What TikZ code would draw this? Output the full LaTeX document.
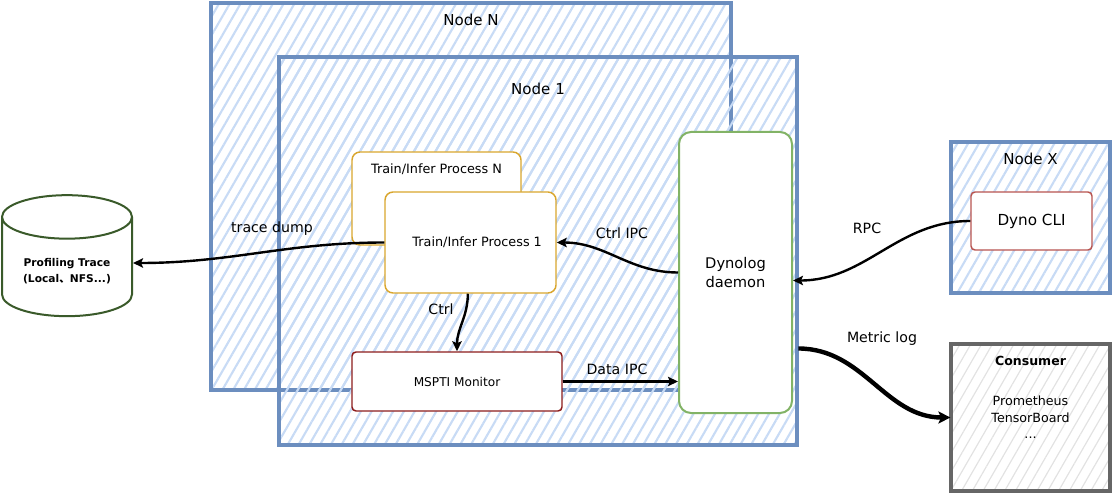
\documentclass[tikz,border=0pt]{standalone}
\usepackage{fontspec}
\setmainfont{DejaVu Sans}
\newfontfamily\cjkfont{Noto Sans CJK SC}
\usepackage{xcolor}
\usetikzlibrary{positioning,calc,shapes.geometric,patterns.meta,arrows.meta}
\definecolor{dynoBlueLine}{HTML}{6C8EBF}
\definecolor{dynoBlueHatch}{HTML}{C8DBF5}
\definecolor{dynoGrayLine}{HTML}{666666}
\definecolor{dynoGrayHatch}{HTML}{E2E2E2}
\definecolor{dynoProcLine}{HTML}{D9A62E}
\definecolor{dynoMonLine}{HTML}{8C1C1C}
\definecolor{dynoCliLine}{HTML}{B85450}
\definecolor{dynoDaemonLine}{HTML}{82B366}
\definecolor{dynoTraceLine}{HTML}{3A5A2A}

\tikzset{
  hostbox/.style={draw=dynoBlueLine, line width=2.3pt,
    pattern={Lines[angle=60,distance=7pt,line width=1.6pt]},
    pattern color=dynoBlueHatch},
  sinkbox/.style={draw=dynoGrayLine, line width=2.3pt,
    pattern={Lines[angle=60,distance=7pt,line width=0.9pt]},
    pattern color=dynoGrayHatch, align=center,
    font=\fontsize{9.5}{12.5}\selectfont},
  procbox/.style={draw=dynoProcLine, fill=white, line width=1.1pt,
    rounded corners=6pt, font=\fontsize{9.6}{11}\selectfont},
  hosttitle/.style={font=\fontsize{11.3}{13}\selectfont},
  flow/.style={draw=black, line width=1.8pt,
    -{Stealth[length=7.5pt,width=7pt,inset=1.5pt]}},
  flowlabel/.style={font=\fontsize{10.6}{12}\selectfont}
}

\begin{document}
\begin{tikzpicture}[x=0.75pt, y=-0.75pt]
\useasboundingbox (0,0) rectangle (1113,495);

% --- HOSTS (hatched, back to front) ---
\node[hostbox, minimum width=390pt, minimum height=290.25pt]
  (nodeN) at (471,196.5) {};
\node[hosttitle, below=5.5pt of nodeN.north] (nodeNtitle) {Node N};

\node[hostbox, minimum width=388.5pt, minimum height=291pt]
  (node1) at (538,251) {};
\node[hosttitle, below=17pt of node1.north] (node1title) {Node 1};

\node[hostbox, minimum width=119.25pt, minimum height=113.25pt]
  (nodeX) at (1030.5,217.5) {};
\node[hosttitle, below=6pt of nodeX.north] (nodeXtitle) {Node X};

% --- CONSUMER ---
\node[sinkbox, minimum width=119.25pt, minimum height=110.25pt]
  (consumer) at (1030.5,417.5) {Prometheus\\TensorBoard\\...};
\node[hosttitle, font=\fontsize{9.4}{12}\selectfont\bfseries,
      below=6pt of consumer.north] (consumertitle) {Consumer};

% --- TRACE STORE ---
\node[cylinder, shape border rotate=90, aspect=0.45, draw=dynoTraceLine,
      line width=1.5pt, fill=white, minimum width=97.5pt, minimum height=90.75pt,
      align=center, font=\fontsize{8}{12}\selectfont\bfseries]
  (trace) at (67,271) {Profiling Trace\\(Local{\cjkfont 、}NFS...)};

% --- PROCESSES ---
\node[procbox, minimum width=126.75pt, minimum height=69.75pt]
  (procN) at (436.5,198.5) {};
\node[font=\fontsize{9.6}{11}\selectfont, below=5.5pt of procN.north]
  (procNtitle) {Train/Infer Process N};
\node[procbox, minimum width=128.25pt, minimum height=75.75pt]
  (proc1) at (470.5,242.5) {\hspace*{10pt}Train/Infer Process 1};

\node[procbox, draw=dynoMonLine, rounded corners=3pt,
      font=\fontsize{9.1}{11}\selectfont,
      minimum width=157.5pt, minimum height=44.25pt]
  (mspti) at (457,381.5) {MSPTI Monitor};

% --- DAEMON + CLI ---
\node[draw=dynoDaemonLine, fill=white, line width=1.5pt, rounded corners=9pt,
      minimum width=84.75pt, minimum height=210.75pt, align=center,
      font=\fontsize{11}{14}\selectfont]
  (dynolog) at (735.5,272.5) {Dynolog\\daemon};

\node[draw=dynoCliLine, fill=white, line width=1.1pt, rounded corners=3pt,
      minimum width=90.75pt, minimum height=43.5pt,
      font=\fontsize{11.4}{13}\selectfont]
  (dynocli) at (1031.5,221) {Dyno CLI};

% --- CONNECTORS ---
\draw[flow] (proc1.west) to[out=180, in=0] ([yshift=6pt]trace.east);
\node[flowlabel] (tracedumpLabel) at (272,229) {trace dump};

\draw[flow] (dynolog.west) to[out=180, in=0] (proc1.east);
\node[flowlabel] (ctrlipcLabel) at (622,233) {Ctrl IPC};

\draw[flow] ([xshift=-2pt]proc1.south) to[out=-90, in=90] (mspti.north);
\node[flowlabel] (ctrlLabel) at (441,309) {Ctrl};

\draw[flow] (mspti.east) -- (dynolog.west |- mspti.east);
\node[flowlabel] (dataipcLabel) at (617,369) {Data IPC};

\draw[flow] (dynocli.west) to[out=180, in=0] ([yshift=-6pt]dynolog.east);
\node[flowlabel] (rpcLabel) at (867,228) {RPC};

\draw[flow, line width=3.3pt, -{Stealth[length=9pt,width=9pt,inset=2pt]}]
  ([xshift=4pt, yshift=-57pt]dynolog.east) to[out=0, in=180] (consumer.west);
\node[flowlabel] (metriclogLabel) at (882,339) {Metric log};

\end{tikzpicture}
\end{document}
